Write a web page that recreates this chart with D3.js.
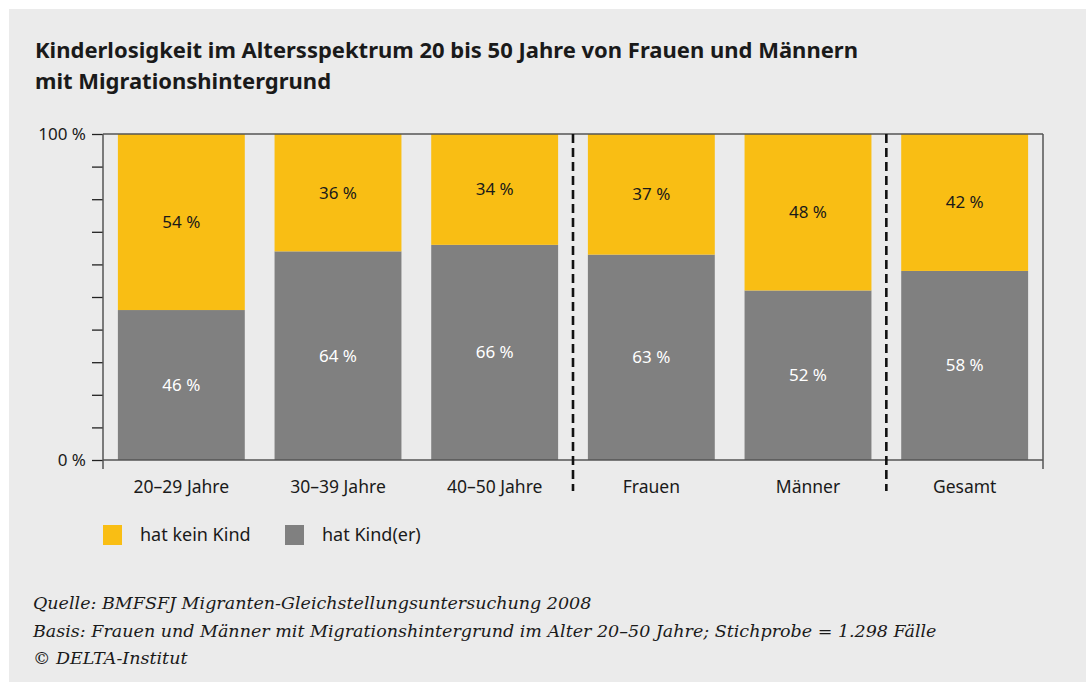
<!DOCTYPE html>
<html>
<head>
<meta charset="utf-8">
<script src="https://cdn.jsdelivr.net/npm/d3@7"></script>
<style>
  body { margin: 0; background: #fff; }
  svg { display: block; }
  text { font-family: "Noto Sans", sans-serif; fill: #1a1a1a; }
  .note { font-family: "DejaVu Serif", serif; font-style: italic; }
</style>
</head>
<body>
<div id="chart"></div>
<script>
const categories = ['20–29 Jahre', '30–39 Jahre', '40–50 Jahre', 'Frauen', 'Männer', 'Gesamt'];
const hatKind = [46, 64, 66, 63, 52, 58];
const keinKind = [54, 36, 34, 37, 48, 42];
const yTicks = [0, 100];
const seriesNames = ['hat kein Kind', 'hat Kind(er)'];
// dashed separators after these categories
const dividersAfter = ['40–50 Jahre', 'Männer'];

const W = 1086, H = 682;
const margin = { top: 134, right: 43, bottom: 222, left: 103 };
const width = W - margin.left - margin.right;
const height = H - margin.top - margin.bottom;

const svg = d3.select('#chart').append('svg')
  .attr('width', W)
  .attr('height', H);

// panel background
svg.append('rect')
  .attr('x', 9).attr('y', 9)
  .attr('width', W - 9).attr('height', H - 9)
  .attr('fill', '#ebebeb');

svg.append('text')
  .attr('x', 35).attr('y', 58)
  .style('font-size', '22px').style('font-weight', 700)
  .text('Kinderlosigkeit im Altersspektrum 20 bis 50 Jahre von Frauen und Männern');
svg.append('text')
  .attr('x', 35).attr('y', 89)
  .style('font-size', '22px').style('font-weight', 700)
  .text('mit Migrationshintergrund');

const g = svg.append('g')
  .attr('transform', 'translate(' + margin.left + ',' + margin.top + ')');

const x = d3.scaleBand()
  .domain(categories)
  .range([0, width])
  .paddingInner(0.19)
  .paddingOuter(0.095);

const y = d3.scaleLinear()
  .domain([0, 100])
  .range([height, 0]);

const rows = categories.map(function (c, i) {
  return { cat: c, kind: hatKind[i], kein: keinKind[i] };
});

// bars: grey bottom, yellow top
const bar = g.selectAll('.bar').data(rows).enter().append('g');
bar.append('rect')
  .attr('x', d => x(d.cat))
  .attr('width', x.bandwidth())
  .attr('y', d => y(d.kind))
  .attr('height', d => height - y(d.kind))
  .attr('fill', '#808080');
bar.append('rect')
  .attr('x', d => x(d.cat))
  .attr('width', x.bandwidth())
  .attr('y', d => y(d.kind + d.kein))
  .attr('height', d => y(d.kind) - y(d.kind + d.kein))
  .attr('fill', '#f9be14');

bar.append('text')
  .attr('x', d => x(d.cat) + x.bandwidth() / 2)
  .attr('y', d => (y(d.kind + d.kein) + y(d.kind)) / 2)
  .attr('dy', '0.35em')
  .attr('text-anchor', 'middle')
  .style('font-size', '17px')
  .text(d => d.kein + ' %');
bar.append('text')
  .attr('x', d => x(d.cat) + x.bandwidth() / 2)
  .attr('y', d => (y(d.kind) + height) / 2)
  .attr('dy', '0.35em')
  .attr('text-anchor', 'middle')
  .style('font-size', '17px')
  .style('fill', '#fff')
  .text(d => d.kind + ' %');

// frame lines
const lineCol = '#555';
g.append('line')
  .attr('x1', 0).attr('x2', width)
  .attr('y1', 0).attr('y2', 0)
  .attr('stroke', lineCol).attr('stroke-width', 1.5);
g.append('line')
  .attr('x1', 0).attr('x2', width)
  .attr('y1', height).attr('y2', height)
  .attr('stroke', lineCol).attr('stroke-width', 1.5);
g.append('line')
  .attr('x1', width).attr('x2', width)
  .attr('y1', 0).attr('y2', height + 9)
  .attr('stroke', lineCol).attr('stroke-width', 1.5);

// y axis
const yAxis = d3.axisLeft(y)
  .tickValues(d3.range(0, 101, 10))
  .tickSize(11)
  .tickFormat(d => yTicks.indexOf(d) >= 0 ? d + ' %' : '');
const ya = g.append('g').call(yAxis);
ya.select('.domain').remove();
ya.selectAll('.tick line').attr('stroke', '#222').attr('stroke-width', 1.3);
ya.selectAll('.tick text')
  .attr('x', -17)
  .style('font-size', '17px')
  .style('font-family', '"Noto Sans", sans-serif')
  .attr('fill', '#1a1a1a');
g.append('line')
  .attr('x1', 0).attr('x2', 0)
  .attr('y1', 0).attr('y2', height + 9)
  .attr('stroke', lineCol).attr('stroke-width', 1.5);

// x labels
g.selectAll('.xl').data(categories).enter().append('text')
  .attr('x', d => x(d) + x.bandwidth() / 2)
  .attr('y', height + 33)
  .attr('text-anchor', 'middle')
  .style('font-size', '17.5px')
  .text(d => d);

// dashed dividers
dividersAfter.forEach(function (c) {
  const i = categories.indexOf(c);
  const xm = (x(categories[i]) + x.bandwidth() + x(categories[i + 1])) / 2;
  g.append('line')
    .attr('x1', xm).attr('x2', xm)
    .attr('y1', 0).attr('y2', height + 31)
    .attr('stroke', '#111')
    .attr('stroke-width', 2.6)
    .attr('stroke-dasharray', '9,5');
});

// legend
const legColors = ['#f9be14', '#808080'];
const legX = [103, 285];
seriesNames.forEach(function (s, i) {
  svg.append('rect')
    .attr('x', legX[i]).attr('y', 525)
    .attr('width', 19).attr('height', 20)
    .attr('fill', legColors[i]);
  svg.append('text')
    .attr('x', legX[i] + 37).attr('y', 541)
    .style('font-size', '18px')
    .text(s);
});

// notes
const notes = [
  'Quelle: BMFSFJ Migranten-Gleichstellungsuntersuchung 2008',
  'Basis: Frauen und Männer mit Migrationshintergrund im Alter 20–50 Jahre; Stichprobe = 1.298 Fälle',
  '© DELTA-Institut'
];
notes.forEach(function (t, i) {
  svg.append('text')
    .attr('class', 'note')
    .attr('x', 33).attr('y', 609 + i * 27.5)
    .style('font-size', '17.5px')
    .text(t);
});
</script>
</body>
</html>
